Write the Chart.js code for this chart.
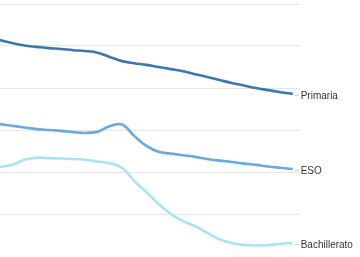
<!DOCTYPE html>
<html>
<head>
<meta charset="utf-8">
<script src="https://cdn.jsdelivr.net/npm/chart.js@4"></script>
<style>
  html, body { margin: 0; padding: 0; background: #fff; }
  #wrap { width: 360px; height: 257px; }
</style>
</head>
<body>
<div id="wrap"><canvas id="chart"></canvas></div>
<script>
// Series (percent), one point per period
const periods = Array.from({ length: 25 }, (_, i) => i);
const primaria = [51.4, 50.7, 50.1, 49.8, 49.5, 49.3, 49.0, 48.8, 48.4, 47.4, 46.4, 45.9, 45.5, 45.0, 44.5, 44.0, 43.3, 42.6, 41.9, 41.2, 40.6, 40.0, 39.5, 39.0, 38.6];
const eso = [31.4, 31.0, 30.6, 30.2, 30.0, 29.8, 29.5, 29.3, 29.6, 30.9, 31.3, 28.6, 26.2, 24.8, 24.4, 24.0, 23.6, 23.1, 22.7, 22.4, 22.0, 21.7, 21.3, 21.0, 20.7];
const bachillerato = [21.2, 21.7, 22.9, 23.4, 23.3, 23.2, 23.1, 22.9, 22.5, 22.1, 21.0, 17.9, 15.2, 12.4, 10.0, 8.3, 7.1, 5.5, 4.0, 3.1, 2.6, 2.5, 2.6, 2.9, 3.1];
const yTicks = [0, 10, 20, 30, 40, 50, 60];

const series = [
  { label: 'Primaria', data: primaria, color: '#3a78ad' },
  { label: 'ESO', data: eso, color: '#68aade' },
  { label: 'Bachillerato', data: bachillerato, color: '#a8e3f6' }
];

// Etiquetas al final de cada línea
const endLabels = {
  id: 'endLabels',
  afterDatasetsDraw(chart) {
    const ctx = chart.ctx;
    ctx.save();
    ctx.font = '10px "Liberation Sans", Arial, sans-serif';
    ctx.textBaseline = 'middle';
    chart.data.datasets.forEach((ds, i) => {
      const pts = chart.getDatasetMeta(i).data;
      const p = pts[pts.length - 1];
      ctx.strokeStyle = '#cccccc';
      ctx.lineWidth = 1;
      ctx.beginPath();
      ctx.moveTo(p.x + 2, p.y + 1.5);
      ctx.lineTo(p.x + 6, p.y + 1.5);
      ctx.stroke();
      ctx.fillStyle = '#333333';
      ctx.fillText(ds.label, p.x + 8, p.y + 2);
    });
    ctx.restore();
  }
};

new Chart(document.getElementById('chart'), {
  type: 'line',
  data: {
    datasets: series.map(s => ({
      label: s.label,
      data: s.data.map((v, i) => ({ x: periods[i], y: v })),
      borderColor: s.color,
      borderWidth: 2.6,
      pointRadius: 0,
      fill: false,
      tension: 0.4
    }))
  },
  options: {
    responsive: true,
    maintainAspectRatio: false,
    animation: false,
    layout: { padding: { top: 4, right: 60, bottom: 1, left: 0 } },
    plugins: { legend: { display: false }, tooltip: { enabled: false } },
    scales: {
      x: { type: 'linear', min: 0, max: 24.6, display: false },
      y: {
        min: 0, max: 60,
        afterBuildTicks: s => { s.ticks = yTicks.map(v => ({ value: v })); },
        afterFit: s => { s.width = 0; },
        ticks: { display: false },
        border: { display: false },
        grid: {
          drawTicks: false,
          color: c => c.tick && c.tick.value === 0 ? 'rgba(0,0,0,0)' : '#e6e6e6'
        }
      }
    }
  },
  plugins: [endLabels]
});
</script>
</body>
</html>
